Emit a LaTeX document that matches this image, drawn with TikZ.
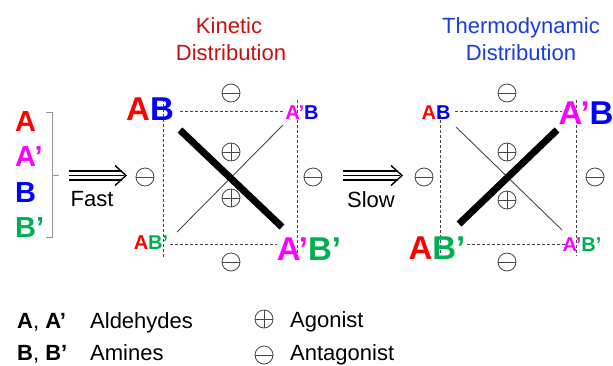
\documentclass[tikz,border=0pt]{standalone}
\usepackage{fontspec}
\setmainfont{Liberation Sans}
\definecolor{cred}{RGB}{255,0,0}
\definecolor{cmag}{RGB}{255,0,255}
\definecolor{cblue}{RGB}{0,0,255}
\definecolor{cgreen}{RGB}{0,176,80}
\definecolor{tred}{RGB}{200,16,16}
\definecolor{tblue}{RGB}{25,60,220}
\definecolor{dgray}{RGB}{70,70,70}
\definecolor{lgray}{RGB}{150,150,150}
\newcommand{\ltA}{\textcolor{cred}{A}}
\newcommand{\ltAp}{\textcolor{cmag}{A’}}
\newcommand{\ltB}{\textcolor{cblue}{B}}
\newcommand{\ltBp}{\textcolor{cgreen}{B’}}
\tikzset{
  biglbl/.style={inner sep=0pt, font=\fontsize{33}{36}\selectfont\bfseries},
  smalllbl/.style={inner sep=0pt, font=\fontsize{20}{24}\selectfont\bfseries},
  listlbl/.style={inner sep=0pt, anchor=west, font=\fontsize{29}{32}\selectfont\bfseries},
  txt/.style={inner sep=0pt, font=\fontsize{22}{26}\selectfont},
  minussym/.style={circle, draw=dgray, line width=0.8pt, minimum size=18pt, inner sep=0pt,
    path picture={\draw[dgray, line width=0.8pt] (path picture bounding box.west) -- (path picture bounding box.east);}},
  plussym/.style={circle, draw=dgray, line width=0.8pt, minimum size=18pt, inner sep=0pt,
    path picture={\draw[dgray, line width=0.8pt] (path picture bounding box.west) -- (path picture bounding box.east)
      (path picture bounding box.north) -- (path picture bounding box.south);}},
  dashline/.style={dgray, line width=0.8pt, dash pattern=on 3pt off 2pt},
  thickline/.style={black, line width=7pt},
  thinline/.style={dgray, line width=0.9pt},
  arrowline/.style={black, line width=1.4pt},
}
\begin{document}
\begin{tikzpicture}[x=1pt,y=-1pt]
\useasboundingbox (0,0) rectangle (613,365);

% titles
\node[txt, text=tred, anchor=base] (kin1) at (229,33) {Kinetic};
\node[txt, text=tred, anchor=base] (kin2) at (231,60) {Distribution};
\node[txt, text=tblue, anchor=base] (th1) at (521,33) {Thermodynamic};
\node[txt, text=tblue, anchor=base] (th2) at (521,60) {Distribution};

% list
\node[listlbl] (lA) at (15,122) {\ltA};
\node[listlbl] (lAp) at (15,157) {\ltAp};
\node[listlbl] (lB) at (15,193) {\ltB};
\node[listlbl] (lBp) at (15,228) {\ltBp};

% bracket
\coordinate (brT) at (52,112);
\coordinate (brB) at (52,237);
\coordinate (brM) at (52,175);
\draw[lgray, line width=0.9pt] ([xshift=-6pt]brT) -- (brT) -- (brB) -- ([xshift=-6pt]brB);
\draw[lgray, line width=0.9pt] (brM) -- ([xshift=7pt]brM);

% fast arrow
\coordinate (fS) at (69,175.5);
\coordinate (fE) at (126,175.5);
\draw[arrowline] ([yshift=-4.5pt]fS) -- ([xshift=-4pt,yshift=-4.5pt]fE);
\draw[arrowline] (fS) -- ([xshift=-2pt]fE);
\draw[arrowline] ([yshift=4.5pt]fS) -- ([xshift=-4pt,yshift=4.5pt]fE);
\draw[arrowline] ([xshift=-11pt,yshift=-10pt]fE) -- (fE) -- ([xshift=-11pt,yshift=10pt]fE);
\node[txt, anchor=base] (fast) at (92,206) {Fast};

% slow arrow
\coordinate (sS) at (343,175.5);
\coordinate (sE) at (402,175.5);
\draw[arrowline] ([yshift=-4.5pt]sS) -- ([xshift=-4pt,yshift=-4.5pt]sE);
\draw[arrowline] (sS) -- ([xshift=-2pt]sE);
\draw[arrowline] ([yshift=4.5pt]sS) -- ([xshift=-4pt,yshift=4.5pt]sE);
\draw[arrowline] ([xshift=-11pt,yshift=-10pt]sE) -- (sE) -- ([xshift=-11pt,yshift=10pt]sE);
\node[txt, anchor=base] (slow) at (371,207) {Slow};

% ---------- kinetic square ----------
\coordinate (k1) at (163,111);
\coordinate (k2) at (297,111);
\coordinate (k3) at (297,244);
\coordinate (k4) at (163,244);
\draw[dashline] ([xshift=17pt]k1) -- ([xshift=-12pt]k2);
\draw[dashline] ([yshift=12pt]k1) -- ([yshift=-14pt]k4);
\draw[dashline] ([yshift=11pt]k2) -- ([yshift=-12pt]k3);
\draw[dashline] ([xshift=7pt]k4) -- ([xshift=-20pt]k3);

\node[biglbl] (kAB) at (150,109) {\ltA\ltB};
\node[smalllbl] (kApB) at (302,113) {\ltAp\ltB};
\node[smalllbl] (kABp) at (151,243) {\ltA\ltBp};
\node[biglbl] (kApBp) at (309,249) {\ltAp\ltBp};

\coordinate (kt1) at (180,130);
\coordinate (kt2) at (282,227);
\coordinate (kn1) at (177,232);
\coordinate (kn2) at (283,125);
\draw[thinline] (kn1) -- (kn2);
\draw[thickline] (kt1) -- (kt2);

\node[minussym] (kmT) at (231,93) {};
\node[minussym] (kmB) at (231,262) {};
\node[minussym] (kmL) at (145,177) {};
\node[minussym] (kmR) at (313,177) {};
\node[plussym] (kp1) at (231,152) {};
\node[plussym] (kp2) at (231,198) {};

% ---------- thermodynamic square ----------
\coordinate (t1) at (440,111);
\coordinate (t2) at (576,111);
\coordinate (t3) at (576,244);
\coordinate (t4) at (440,244);
\draw[dashline] ([xshift=15pt]t1) -- ([xshift=-14pt]t2);
\draw[dashline] ([yshift=6pt]t1) -- ([yshift=-9pt]t4);
\draw[dashline] ([yshift=11pt]t2) -- ([yshift=-12pt]t3);
\draw[dashline] ([xshift=27pt]t4) -- ([xshift=-9pt]t3);

\node[smalllbl] (tAB) at (436,113) {\ltA\ltB};
\node[biglbl] (tApB) at (586,113) {\ltAp\ltB};
\node[biglbl] (tABp) at (437,248) {\ltA\ltBp};
\node[smalllbl] (tApBp) at (582,245) {\ltAp\ltBp};

\coordinate (tt1) at (459,224);
\coordinate (tt2) at (557,130);
\coordinate (tn1) at (456,127);
\coordinate (tn2) at (562,230);
\draw[thinline] (tn1) -- (tn2);
\draw[thickline] (tt1) -- (tt2);

\node[minussym] (tmT) at (507,93) {};
\node[minussym] (tmB) at (507,262) {};
\node[minussym] (tmL) at (424,177) {};
\node[minussym] (tmR) at (595,177) {};
\node[plussym] (tp1) at (507,152) {};
\node[plussym] (tp2) at (507,200) {};

% ---------- legend ----------
\node[txt, anchor=base west] (legA) at (17,328) {\textbf{A}, \textbf{A’}};
\node[txt, anchor=base west] (legAld) at (90,328) {Aldehydes};
\node[txt, anchor=base west] (legB) at (17,360) {\textbf{B}, \textbf{B’}};
\node[txt, anchor=base west] (legAm) at (90,360) {Amines};
\node[plussym] (legP) at (264,319) {};
\node[txt, anchor=base west] (legAg) at (290,327) {Agonist};
\node[minussym] (legM) at (264,355) {};
\node[txt, anchor=base west] (legAnt) at (290,360) {Antagonist};
\end{tikzpicture}
\end{document}
